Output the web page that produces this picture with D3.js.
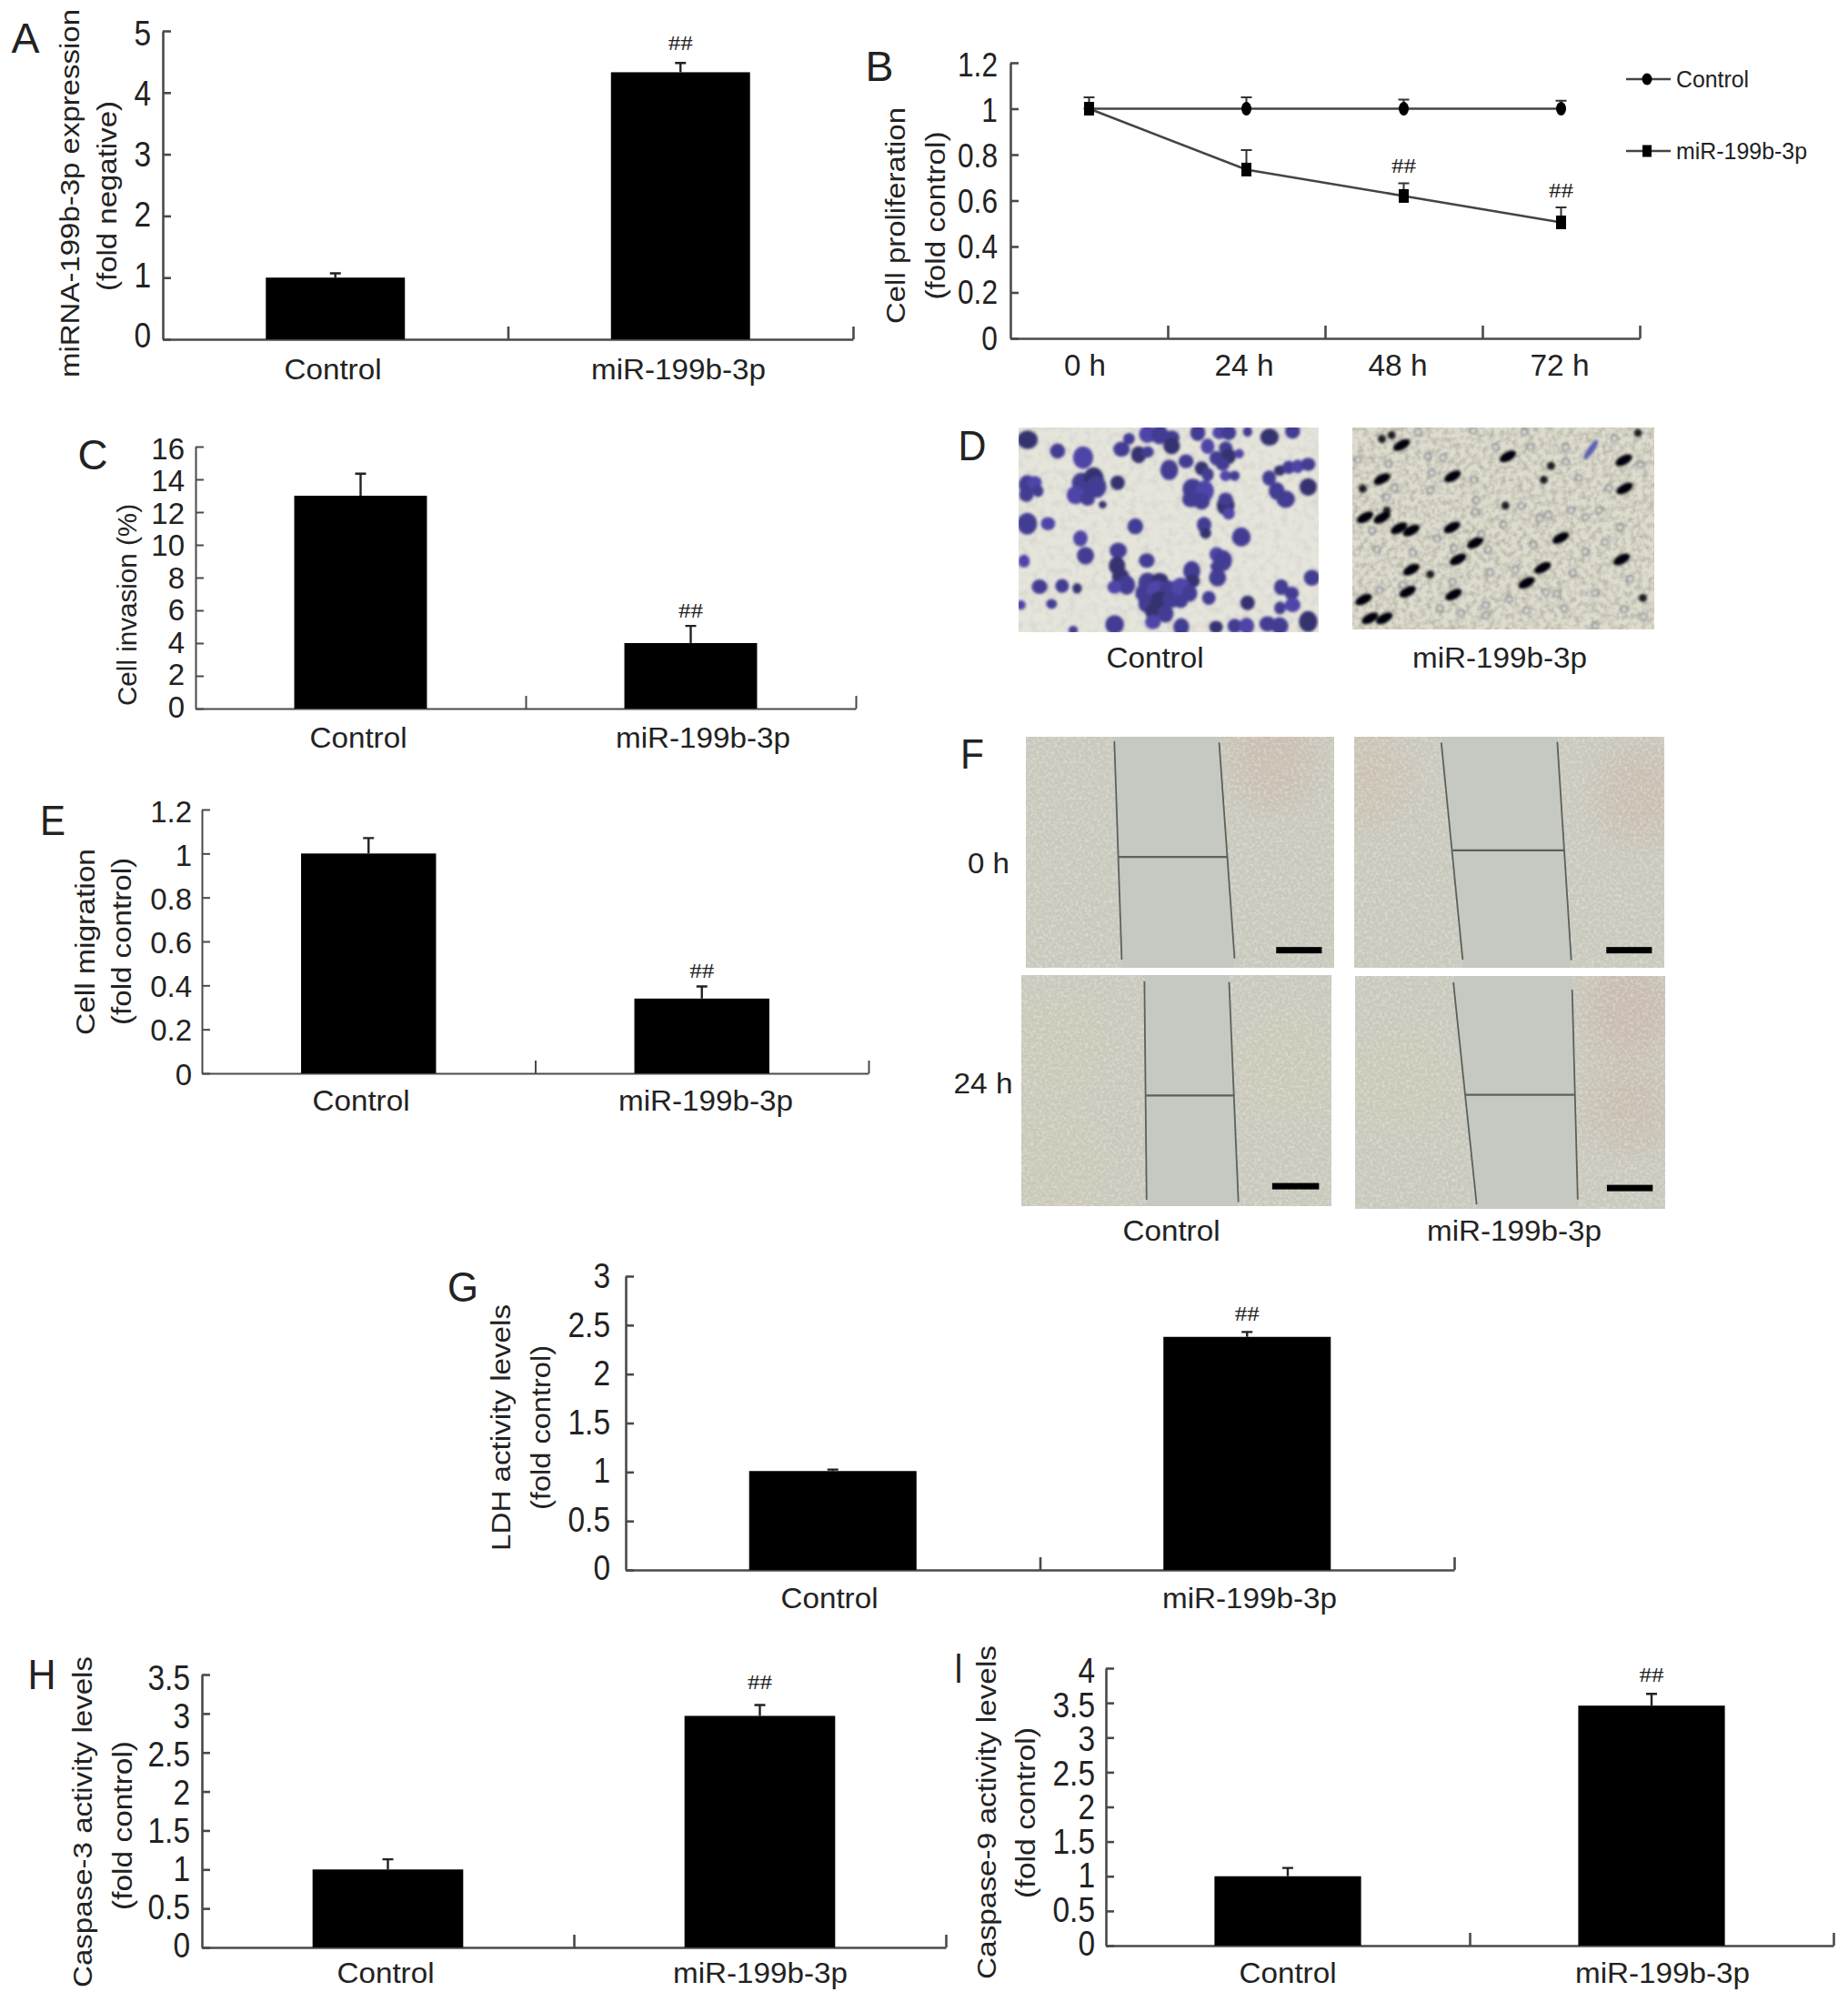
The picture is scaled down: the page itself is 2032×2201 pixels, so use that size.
<!DOCTYPE html>
<html><head><meta charset="utf-8">
<script src="https://cdnjs.cloudflare.com/ajax/libs/d3/7.8.5/d3.min.js"></script>
<style>html,body{margin:0;padding:0;background:#fff}svg{display:block}text{font-family:"Liberation Sans",Arial,sans-serif;fill:#222}</style>
</head><body><svg id="fig" width="2032" height="2201"></svg>
<script>
const categories = ["Control", "miR-199b-3p"];
const hours = ["0 h", "24 h", "48 h", "72 h"];
const miRNAValues = [1, 4.33],      miRNATops = [1.07, 4.48];
const invasionValues = [13, 4],     invasionTops = [14.35, 5.05];
const migrationValues = [1, 0.34],  migrationTops = [1.07, 0.395];
const ldhValues = [1.01, 2.38],     ldhTops = [1.025, 2.43];
const casp3Values = [1, 2.97],      casp3Tops = [1.13, 3.11];
const casp9Values = [1, 3.46],      casp9Tops = [1.12, 3.63];
const prolifControl = [1, 1, 1, 1],            prolifControlTops = [1.05, 1.05, 1.04, 1.035];
const prolifMiR = [1, 0.735, 0.62, 0.505],     prolifMiRTops = [1, 0.82, 0.675, 0.57];
const prolifTicks = [0, 0.2, 0.4, 0.6, 0.8, 1, 1.2];
const prolifMarks = [null, null, "##", "##"];

const svg = d3.select("#fig");
const defs = svg.append("defs");
function noise(id, freq, seed, matrix){
  const f = defs.append("filter").attr("id", id).attr("x", 0).attr("y", 0).attr("width", "100%").attr("height", "100%");
  f.append("feTurbulence").attr("type", "fractalNoise").attr("baseFrequency", freq).attr("numOctaves", 2).attr("seed", seed);
  f.append("feColorMatrix").attr("type", "matrix").attr("values", matrix);
}
noise("speckD", 0.12, 4, "0 0 0 0 0.45  0 0 0 0 0.42  0 0 0 0 0.42  1.9 0 0 0 -0.8");
noise("speckM", 0.16, 9, "0 0 0 0 0.42  0 0 0 0 0.40  0 0 0 0 0.34  2.3 0 0 0 -0.86");
noise("speckF", 0.3, 7, "0 0 0 0 0.98  0 0 0 0 0.98  0 0 0 0 0.92  2.6 0 0 0 -1.06");
defs.append("filter").attr("id", "soft").append("feGaussianBlur").attr("stdDeviation", 1.7);
defs.append("filter").attr("id", "wide").append("feGaussianBlur").attr("stdDeviation", 14);

function label(text, x, y, o = {}){
  const t = svg.append("text").text(text)
    .attr("transform", `translate(${x},${y})` + (o.rotate ? " rotate(-90)" : ""))
    .attr("text-anchor", o.anchor || "middle").attr("dominant-baseline", "central")
    .attr("font-size", o.size || 32);
  if (o.serif) t.style("font-family", "'Liberation Serif',serif");
  const len = o.len || (o.squeeze ? t.node().getComputedTextLength() * o.squeeze : 0);
  if (len) t.attr("textLength", len).attr("lengthAdjust", "spacingAndGlyphs");
  return t;
}
const stroke = "#4a4a4a";
function frame(p, maxV, ticks, tickN){
  const y = d3.scaleLinear().domain([0, maxV]).range([p.y0, p.yTop]);
  const xa = d3.scaleLinear().domain([0, tickN]).range([p.x0, p.x1]);
  const ga = svg.append("g").attr("transform", `translate(${p.x0},0)`)
    .call(d3.axisLeft(y).tickValues(ticks).tickSizeInner(-9).tickSizeOuter(0).tickFormat(""));
  const gb = svg.append("g").attr("transform", `translate(0,${p.y0})`)
    .call(d3.axisBottom(xa).tickValues(d3.range(1, tickN + 1)).tickSizeInner(-14).tickSizeOuter(0).tickFormat(""));
  [ga, gb].forEach(g => { g.selectAll("path,line").attr("stroke", stroke).attr("stroke-width", p.thick || 2); });
  const dy = d3.scaleLinear().domain([0, maxV]).range(p.tickDy || [0, 0]);
  ticks.forEach(v => label(String(v), p.tickR, y(v) + dy(v), {anchor: "end", size: p.tickSize || 33, squeeze: p.squeeze}));
  return y;
}
function barPanel(p, values, tops, maxV, ticks){
  const y = frame(p, maxV, ticks, 2);
  const x = d3.scaleBand().domain(categories).range([p.x0, p.x1]).paddingInner(p.pad).paddingOuter(p.pad / 2);
  svg.append("g").selectAll("rect").data(categories).join("rect")
    .attr("x", d => x(d)).attr("width", x.bandwidth())
    .attr("y", (d, i) => y(values[i])).attr("height", (d, i) => p.y0 - y(values[i]))
    .attr("fill", "#000");
  const cx = d => x(d) + x.bandwidth() / 2;
  svg.append("g").selectAll("path").data(categories).join("path")
    .attr("d", (d, i) => `M${cx(d)},${y(values[i])}V${y(tops[i])}M${cx(d) - 6},${y(tops[i])}H${cx(d) + 6}`)
    .attr("stroke", "#222").attr("stroke-width", 2.4).attr("fill", "none");
  const j = categories.indexOf("miR-199b-3p");
  label("##", cx(categories[j]), y(tops[j]) - p.markUp, {serif: true, size: 23, len: 27});
  categories.forEach((c, i) => label(c, p.labX[i], p.labY, {len: i ? 192 : 107, size: 32}));
  p.titles.forEach(t => label(t.text, t.x, (t.a + t.b) / 2, {rotate: true, size: p.titleSize || 30, len: t.b - t.a}));
}

const tall = {tickSize: 38, squeeze: 0.88, thick: 2.6, titleSize: 29};
barPanel({...tall,x0:179,x1:938,y0:373,yTop:34,pad:0.597,tickR:166,tickDy:[-4,2.5],markUp:22,labX:[366,746],labY:406,
  titles:[{text:"miRNA-199b-3p expression",x:77,a:10,b:415},{text:"(fold negative)",x:118,a:111,b:320}]}, miRNAValues, miRNATops, 5, [0,1,2,3,4,5]);
barPanel({x0:215,x1:941,y0:779,yTop:491,pad:0.598,tickR:203,tickDy:[-2,2],markUp:17,labX:[394,773],labY:811,
  titles:[{text:"Cell invasion (%)",x:139,a:554,b:776}]}, invasionValues, invasionTops, 16, d3.range(0,17,2));
barPanel({x0:222,x1:955,y0:1180,yTop:890,pad:0.595,tickR:211,tickDy:[1,2],markUp:17,labX:[397,776],labY:1210,
  titles:[{text:"Cell migration",x:93,a:933,b:1138},{text:"(fold control)",x:133,a:943,b:1127}]}, migrationValues, migrationTops, 1.2, [0,0.2,0.4,0.6,0.8,1,1.2]);
barPanel({...tall,x0:688,x1:1599,y0:1726,yTop:1403,pad:0.596,tickR:671,tickDy:[-2,0],markUp:20,labX:[912,1374],labY:1757,
  titles:[{text:"LDH activity levels",x:551,a:1434,b:1705},{text:"(fold control)",x:595,a:1479,b:1660}]}, ldhValues, ldhTops, 3, [0,0.5,1,1.5,2,2.5,3]);
barPanel({...tall,x0:222,x1:1040,y0:2141,yTop:1841,pad:0.595,tickR:209,tickDy:[-2,4],markUp:25,labX:[424,836],labY:2169,
  titles:[{text:"Caspase-3 activity levels",x:91,a:1821,b:2185},{text:"(fold control)",x:135,a:1914,b:2100}]}, casp3Values, casp3Tops, 3.5, [0,0.5,1,1.5,2,2.5,3,3.5]);
barPanel({...tall,x0:1216,x1:2016,y0:2139,yTop:1834,pad:0.597,tickR:1204,tickDy:[-2,3],markUp:21,labX:[1416,1828],labY:2169,
  titles:[{text:"Caspase-9 activity levels",x:1085,a:1809,b:2176},{text:"(fold control)",x:1128,a:1899,b:2087}]}, casp9Values, casp9Tops, 4, [0,0.5,1,1.5,2,2.5,3,3.5,4]);

// Panel B
(function(){
  const p = {...tall,x0:1111,x1:1803,y0:372,yTop:69,tickR:1097,tickSize:36,tickDy:[0,2]};
  const y = frame(p, 1.2, prolifTicks, 4);
  const x = d3.scalePoint().domain(hours).range([p.x0, p.x1]).padding(0.5);
  const line = d3.line().x((d, i) => x(hours[i])).y(d => y(d));
  const series = [
    {v: prolifControl, t: prolifControlTops, sq: false},
    {v: prolifMiR, t: prolifMiRTops, sq: true}
  ];
  series.forEach(s => {
    svg.append("path").datum(s.v).attr("d", line).attr("fill", "none").attr("stroke", "#444").attr("stroke-width", 2.6);
    svg.append("g").selectAll("path").data(hours).join("path")
      .attr("d", (h, i) => `M${x(h)},${y(s.v[i])}V${y(s.t[i])}M${x(h) - 6},${y(s.t[i])}H${x(h) + 6}`)
      .attr("stroke", "#333").attr("stroke-width", 2).attr("fill", "none");
    const g = svg.append("g").selectAll("g").data(hours).join("g")
      .attr("transform", (h, i) => `translate(${x(h)},${y(s.v[i])})`);
    if (s.sq) g.append("rect").attr("x", -5.5).attr("y", -7.5).attr("width", 11).attr("height", 15).attr("fill", "#000");
    else g.append("ellipse").attr("rx", 5.5).attr("ry", 7.5).attr("fill", "#000");
  });
  prolifMarks.forEach((m, i) => { if (m) label(m, x(hours[i]), y(prolifMiRTops[i]) - 19, {serif: true, size: 23, len: 27}); });
  const labX = [1193, 1368, 1537, 1715];
  hours.forEach((h, i) => label(h, labX[i], 401, {size: 34, len: i ? 65 : 46}));
  label("Cell proliferation", 985, 237, {rotate: true, size: 29, len: 238});
  label("(fold control)", 1029, 237, {rotate: true, size: 29, len: 185});
  // legend
  [[87, false, categories[0], 80], [166, true, categories[1], 144]].forEach(([ly, sq, name, w]) => {
    svg.append("line").attr("x1", 1788).attr("x2", 1837).attr("y1", ly).attr("y2", ly).attr("stroke", "#444").attr("stroke-width", 2.4);
    if (sq) svg.append("rect").attr("x", 1806).attr("y", ly - 6.5).attr("width", 10).attr("height", 13).attr("fill", "#000");
    else svg.append("ellipse").attr("cx", 1811).attr("cy", ly).attr("rx", 5.5).attr("ry", 6.5).attr("fill", "#000");
    label(name, 1843, ly, {anchor: "start", size: 26, len: w});
  });
})();

// Panel letters
[["A",28,42,31],["B",967,73,31],["C",102,500,33],["D",1069,490,31],["E",58,902,28],["F",1069,829,26],["G",509,1415,34],["H",46,1841,31],["I",1054,1834,10]]
  .forEach(([l, x, y, w]) => label(l, x, y, {size: 46, len: w}));

// Panel D micrographs: blob positions (percent of the photo)
const dControlCells = [[3,6,2.8],[13,11.5,2.1],[21.5,14.7,2.8],[34.3,10.6,2.3],[36.8,5.5,1.6],[40,13.3,2.1],[43,12,1.7],[43,3.3,2.4],[47,3.5,2.4],[51,5,2.2],[51,9,2.3],[59.7,2.5,2.1],[67,2.5,2],[70,2.5,2.1],[76.3,2,1.3],[83.6,4.7,2.6],[91.3,1.8,2.1],[63,9.2,1.9],[69,9.9,1.9],[66,15,2],[70,14,2],[68,18,1.9],[73.5,12.8,1.3],[50.2,20.7,2.5],[55.8,16.5,2.1],[61,20,1.9],[63,23,1.7],[69,23.6,1.6],[72,23.6,1.4],[83.5,24.7,1.9],[87,21,1.6],[90,19.5,1.8],[93,19,1.7],[96.5,18,2],[21,27,2.7],[25,25,2.8],[22,31,2.8],[19,33,2.5],[26,29,2.7],[23,35,2],[33,27,2],[2.9,28,2.4],[5.3,26.9,2],[2.6,32.8,2],[6.5,31,1.5],[28,37.7,1.1],[58,30,2.8],[62,31,2.6],[57.5,35,2.5],[61,36,2.3],[69,38,2.5],[69,35,2],[70,42,1.7],[86,31,2.2],[89,35,2.6],[96.5,29.1,2.4],[2.9,47,2.7],[9.8,47,2],[38.9,48.3,2.2],[61.8,47.6,2],[62.3,51.7,1.6],[74.2,53.5,2.6],[20.6,54.2,2],[33.2,60.1,2.4],[22.3,62.6,2.4],[32.8,67.5,2.3],[42.7,65,2.2],[66,62,2],[68,65,2.6],[66,68,1.7],[34,73,2.4],[36,77,2.4],[32,78,2],[66.3,73.4,2.4],[57.7,70,2.4],[58,75,2],[97.7,73.4,2.2],[1.8,65.3,1.6],[7,77.8,2.2],[14.5,77.4,1.9],[19.5,78.6,1.3],[11,86.2,1.5],[.8,86.7,1.3],[87.5,78,2],[91,81,2],[76.3,85.7,2],[87.1,88.2,1.6],[91.3,86.7,2.2],[63.4,83.3,1.9],[43,76,2.6],[47,75,2.5],[42,81,2.6],[46,80,2.7],[50,79,2.6],[43,86,2.6],[47,85,2.6],[51,84,2.5],[54,78,2.6],[57,81,2.1],[54,85,2],[45,90,2.4],[49,91,2.2],[44.8,95,2.2],[32,96.3,2.6],[54.2,97.5,2.2],[65.8,97.5,1.9],[72,97,2],[76,97,2.1],[83,96,2.3],[87,97,2.4],[96.5,94.8,2.6],[18.2,99,1.3]];
const dMiRRods = [[9.8,25.5],[16.3,8.7],[51.5,14.3],[89.9,16.2],[90.2,30.2],[4.2,44.5],[9.8,44.7],[15.4,49.9],[19.5,51],[33,49.5],[40.7,57.1],[35,65.3],[63,69.5],[57.7,76.9],[18.3,81.3],[3.7,85.2],[5.8,94.5],[10.6,94.5],[33.5,82.8],[33.2,24.2],[69,54.7],[19.5,70.4],[89.2,65.3]];
const dMiRDots = [[9.8,5.7],[13,3.8],[3.4,30.3],[11.4,41.2],[50.7,38.7],[25.8,72.7],[94.6,2.7],[96.2,84.4],[65.8,19],[63.4,25.9]];
const dMiRRings = [[25,14.3],[47.5,9.7],[59,9.7],[70.7,9.7],[40.3,25.9],[25.8,31.1],[26.3,22.5],[1.8,16],[56,38.9],[72.4,41],[77.2,44.5],[64.9,43.3],[81.7,41],[40.7,41.8],[42.7,53],[33.7,59.8],[45,60.5],[83.6,56.9],[45.6,71.7],[33.2,76.5],[80.4,81.9],[64.1,81.6],[67.8,82.3],[70.2,89.6],[57.7,90.7],[44.2,93],[29,89.6],[80.4,98.2],[96.5,93.7],[95.4,18.4],[70.7,16.9],[8.2,60.4],[9,80.5],[16.7,78],[6.6,51],[11.4,34.5],[41,36],[44.2,88],[77.2,61.5],[88.7,49.5],[54,70.5],[21.8,2.2],[40,1.5],[57,2.2],[86.8,5.3],[14,30],[20,62],[28,55],[50,48],[60,58],[73,72],[85,30],[75,25],[92,75],[30,15],[12,18],[52,85],[90,90],[36,92],[62,45]];

function photoFrame(b){
  return {x: d3.scaleLinear().domain([0,100]).range([b.x, b.x + b.w]), y: d3.scaleLinear().domain([0,100]).range([b.y, b.y + b.h])};
}
(function(){
  const b1 = {x:1120,y:470,w:330,h:225}, b2 = {x:1487,y:470,w:332,h:222};
  const s1 = photoFrame(b1), s2 = photoFrame(b2);
  const clip = (id, b) => defs.append("clipPath").attr("id", id).append("rect").attr("x", b.x).attr("y", b.y).attr("width", b.w).attr("height", b.h);
  clip("cd1", b1); clip("cd2", b2);
  const g1 = svg.append("g").attr("clip-path", "url(#cd1)");
  g1.append("rect").attr("x", b1.x).attr("y", b1.y).attr("width", b1.w).attr("height", b1.h).attr("fill", "#e6e5dc");
  g1.append("rect").attr("x", b1.x).attr("y", b1.y).attr("width", b1.w).attr("height", b1.h).attr("filter", "url(#speckD)").attr("opacity", .3);
  g1.append("g").attr("filter", "url(#soft)").selectAll("ellipse").data(dControlCells).join("ellipse")
    .attr("cx", d => s1.x(d[0])).attr("cy", d => s1.y(d[1])).attr("rx", d => d[2] * b1.w / 100 * 1.2).attr("ry", (d, i) => d[2] * b1.w / 100 * 1.2 * (0.92 + (i % 3) * 0.1))
    .attr("fill", (d, i) => i % 5 === 0 ? "#35336f" : i % 5 === 2 ? "#4f45a8" : "#433c93");
  const g2 = svg.append("g").attr("clip-path", "url(#cd2)");
  g2.append("rect").attr("x", b2.x).attr("y", b2.y).attr("width", b2.w).attr("height", b2.h).attr("fill", "#dedccf");
  g2.append("rect").attr("x", b2.x).attr("y", b2.y).attr("width", b2.w).attr("height", b2.h).attr("filter", "url(#speckM)").attr("opacity", .7);
  const inner = g2.append("g").attr("filter", "url(#soft)");
  inner.selectAll("circle.ring").data(dMiRRings).join("circle").attr("class", "ring")
    .attr("cx", d => s2.x(d[0])).attr("cy", d => s2.y(d[1])).attr("r", 3.3)
    .attr("fill", "#ecece6").attr("stroke", "#3f455c").attr("stroke-width", 1.5).attr("opacity", .8);
  inner.selectAll("circle.dot").data(dMiRDots).join("circle").attr("class", "dot")
    .attr("cx", d => s2.x(d[0])).attr("cy", d => s2.y(d[1])).attr("r", 4.4).attr("fill", "#1a1a22");
  inner.selectAll("ellipse").data(dMiRRods).join("ellipse")
    .attr("transform", d => `translate(${s2.x(d[0])},${s2.y(d[1])}) rotate(-28)`)
    .attr("rx", 10).attr("ry", 5).attr("fill", "#05050a");
  inner.append("ellipse").attr("transform", `translate(${s2.x(79)},${s2.y(11)}) rotate(-55)`).attr("rx", 13).attr("ry", 3.5).attr("fill", "#5a60b0");
  label(categories[0], 1270, 723, {len: 107, size: 32});
  label(categories[1], 1649, 723, {len: 192, size: 32});
})();

// Panel F wound-healing photos: line ends (percent of the photo)
const woundPhotos = [
  {box:[1128,810,339,254], left:[28.7,1.9,31.1,96.5], right:[62.7,2.5,67.7,96], cross:[30,65.3,52], barX:81.2, barY:91, tint:[[80,10,"#c9bdb0"]]},
  {box:[1489,810,341,254], left:[28.1,2.5,35,96.5], right:[65.5,2.2,70,96.7], cross:[31.7,67.8,49.2], barX:81.3, barY:91, tint:[[92,25,"#c9bdb0"],[4,18,"#cbc1b3"]]},
  {box:[1123,1072,341,254], left:[39.7,2.7,40.4,97.2], right:[67,3,70,98.2], cross:[40.2,68.7,52.1], barX:80.9, barY:90, tint:[[12,30,"#cbc9b5"],[12,80,"#cbc9b5"],[85,40,"#cbc9b6"]]},
  {box:[1490,1073,341,256], left:[31.7,2.8,39.2,98.1], right:[70,5.9,71.8,96], cross:[35.6,70.9,51], barX:81.2, barY:89.7, tint:[[88,15,"#c8b9ae"],[88,55,"#c8bdb0"],[15,45,"#cbc9b5"]]}
];
woundPhotos.forEach((w, i) => {
  const b = {x:w.box[0], y:w.box[1], w:w.box[2], h:w.box[3]};
  const s = photoFrame(b);
  defs.append("clipPath").attr("id", "cf" + i).append("rect").attr("x", b.x).attr("y", b.y).attr("width", b.w).attr("height", b.h);
  const g = svg.append("g").attr("clip-path", `url(#cf${i})`);
  g.append("rect").attr("x", b.x).attr("y", b.y).attr("width", b.w).attr("height", b.h).attr("fill", "#c9c8bd");
  w.tint.forEach(t => g.append("ellipse").attr("cx", s.x(t[0])).attr("cy", s.y(t[1])).attr("rx", 50).attr("ry", 55).attr("fill", t[2]).attr("filter", "url(#wide)").attr("opacity", .8));
  g.append("rect").attr("x", b.x).attr("y", b.y).attr("width", b.w).attr("height", b.h).attr("filter", "url(#speckF)").attr("opacity", .32);
  const poly = [[w.left[0],0],[w.right[0],0],[w.right[2],100],[w.left[2],100]].map(d => [s.x(d[0]), s.y(d[1])]);
  g.append("path").attr("d", d3.line()(poly) + "Z").attr("fill", "#c5c9c2");
  const seg = (a, c, e, f, sw) => g.append("line").attr("x1", s.x(a)).attr("y1", s.y(c)).attr("x2", s.x(e)).attr("y2", s.y(f)).attr("stroke", "#5c615f").attr("stroke-width", sw);
  seg(w.left[0], w.left[1], w.left[2], w.left[3], 1.8);
  seg(w.right[0], w.right[1], w.right[2], w.right[3], 1.8);
  seg(w.cross[0], w.cross[2], w.cross[1], w.cross[2], 2.2);
  g.append("rect").attr("x", s.x(w.barX)).attr("y", s.y(w.barY)).attr("width", s.x(96) - s.x(w.barX)).attr("height", 7).attr("fill", "#000");
});
label(hours[0], 1087, 949, {len: 46, size: 32});
label(hours[1], 1081, 1191, {len: 65, size: 32});
label(categories[0], 1288, 1353, {len: 107, size: 32});
label(categories[1], 1665, 1353, {len: 192, size: 32});
</script></body></html>
